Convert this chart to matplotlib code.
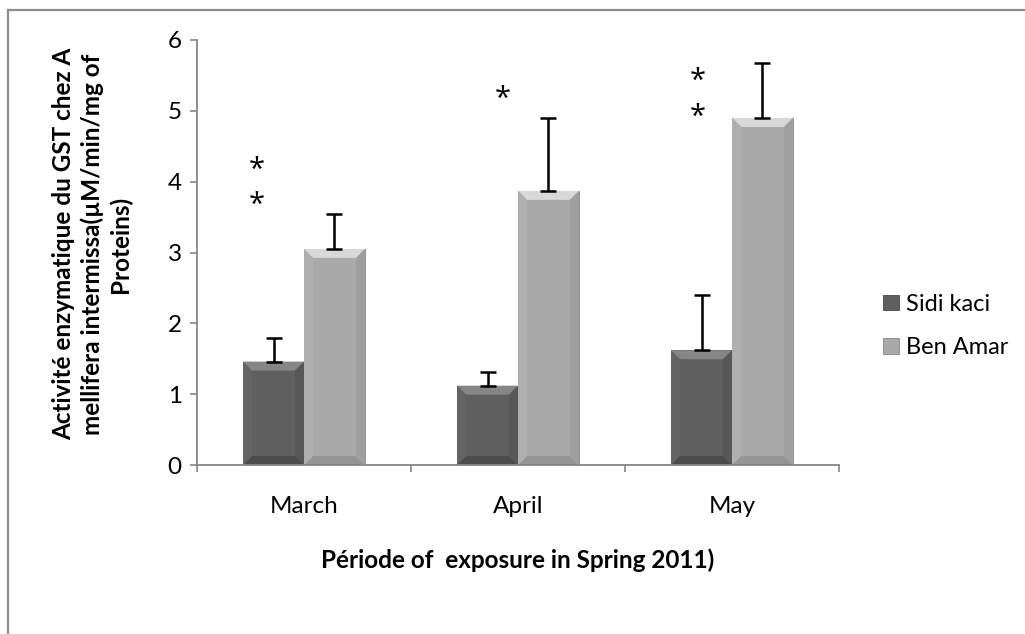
import matplotlib.pyplot as plt
import numpy as np
from matplotlib.patches import Polygon
from matplotlib.lines import Line2D

# Data
months = ["March", "April", "May"]
sidi_kaci = [1.46, 1.12, 1.62]
sidi_kaci_err = [0.33, 0.19, 0.78]
ben_amar = [3.05, 3.87, 4.90]
ben_amar_err = [0.50, 1.03, 0.77]

# Significance stars (month index, value level)
star_month = [0, 0, 1, 2, 2]
star_level = [4.22, 3.73, 5.22, 5.48, 4.97]
star_shift = [-0.22, -0.22, -0.07, -0.16, -0.16]

plt.rcParams['font.family'] = ['Lato', 'DejaVu Sans']

fig = plt.figure(figsize=(10.25, 6.34), dpi=100)
ax = fig.add_axes([197 / 1025, 1 - 465 / 634, 642 / 1025, 425 / 634])

x = np.arange(len(months))
w = 0.285

bars1 = ax.bar(x - w / 2, sidi_kaci, w, color="#5f5f5f", edgecolor="#484848",
               linewidth=0.6, label="Sidi kaci", zorder=2)
bars2 = ax.bar(x + w / 2, ben_amar, w, color="#a9a9a9", edgecolor="#888888",
               linewidth=0.6, label="Ben Amar", zorder=2)

ax.errorbar(x - w / 2, sidi_kaci, yerr=[np.zeros(3), sidi_kaci_err], fmt="none",
            ecolor="black", elinewidth=1.8, capsize=6, capthick=1.8, zorder=3)
ax.errorbar(x + w / 2, ben_amar, yerr=[np.zeros(3), ben_amar_err], fmt="none",
            ecolor="black", elinewidth=1.8, capsize=6, capthick=1.8, zorder=3)

ax.set_xlim(-0.5, 2.5)
ax.set_ylim(0, 6)

# bevel effect on the bars (sizes in pixels)
p0 = ax.transData.transform((0, 0))
p1 = ax.transData.transform((1, 1))
bx = 9 / (p1[0] - p0[0])
by = 9 / (p1[1] - p0[1])


def bevel(patch, top, bottom, left, right):
    x0 = patch.get_x()
    x1 = x0 + patch.get_width()
    h = patch.get_height()
    shapes = [
        ([(x0, h), (x1, h), (x1 - bx, h - by), (x0 + bx, h - by)], top),
        ([(x0, 0), (x1, 0), (x1 - bx, by), (x0 + bx, by)], bottom),
        ([(x0, 0), (x0 + bx, by), (x0 + bx, h - by), (x0, h)], left),
        ([(x1, 0), (x1 - bx, by), (x1 - bx, h - by), (x1, h)], right),
    ]
    for pts, c in shapes:
        ax.add_patch(Polygon(pts, closed=True, facecolor=c, edgecolor="none", zorder=2.5))


for b in bars1:
    bevel(b, "#868686", "#4c4c4c", "#646464", "#575757")
for b in bars2:
    bevel(b, "#d8d8d8", "#959595", "#afafaf", "#9f9f9f")

# significance stars
for m, lvl, s in zip(star_month, star_level, star_shift):
    ax.annotate("*", (x[m] + s, lvl), xytext=(0, -3), textcoords="offset points",
                ha="center", va="center", fontsize=21, family="Open Sans", zorder=4)

# axes styling
for side in ["top", "right"]:
    ax.spines[side].set_visible(False)
for side in ["left", "bottom"]:
    ax.spines[side].set_color("#868686")
    ax.spines[side].set_linewidth(1.3)

ax.set_yticks(range(0, 7))
ax.tick_params(axis="y", direction="out", length=5, width=1.2, color="#868686",
               labelsize=17.5, pad=6)
ax.set_xticks(x)
ax.set_xticklabels(months)
ax.tick_params(axis="x", which="major", length=0, labelsize=17.5, pad=22)
ax.set_xticks([-0.5, 0.5, 1.5, 2.5], minor=True)
ax.tick_params(axis="x", which="minor", direction="out", length=5, width=1.2,
               color="#868686")

fig.text(92 / 1025, 1 - 244 / 634,
         "Activité enzymatique du GST chez A\nmellifera intermissa(µM/min/mg of\nProteins)",
         rotation=90, ha="center", va="center", multialignment="center",
         fontsize=17.5, fontweight="bold", linespacing=1.25)
fig.text(518 / 1025, 1 - 560 / 634, "Période of  exposure in Spring 2011)",
         ha="center", va="center", fontsize=17.5, fontweight="bold")

fig.legend(handles=[bars1, bars2], labels=["Sidi kaci", "Ben Amar"],
           loc="center left", bbox_to_anchor=(862 / 1025, 1 - 326 / 634),
           frameon=False, fontsize=17, handlelength=0.65, handleheight=0.65,
           handletextpad=0.3, labelspacing=0.95)

# outer chart border
fig.add_artist(Line2D([8 / 1025, 8 / 1025], [0, 1 - 10 / 634], color="#8c8c8c", linewidth=1.6))
fig.add_artist(Line2D([8 / 1025, 1], [1 - 10 / 634, 1 - 10 / 634], color="#8c8c8c", linewidth=1.6))

plt.savefig("out.png", dpi=100)
plt.close()
